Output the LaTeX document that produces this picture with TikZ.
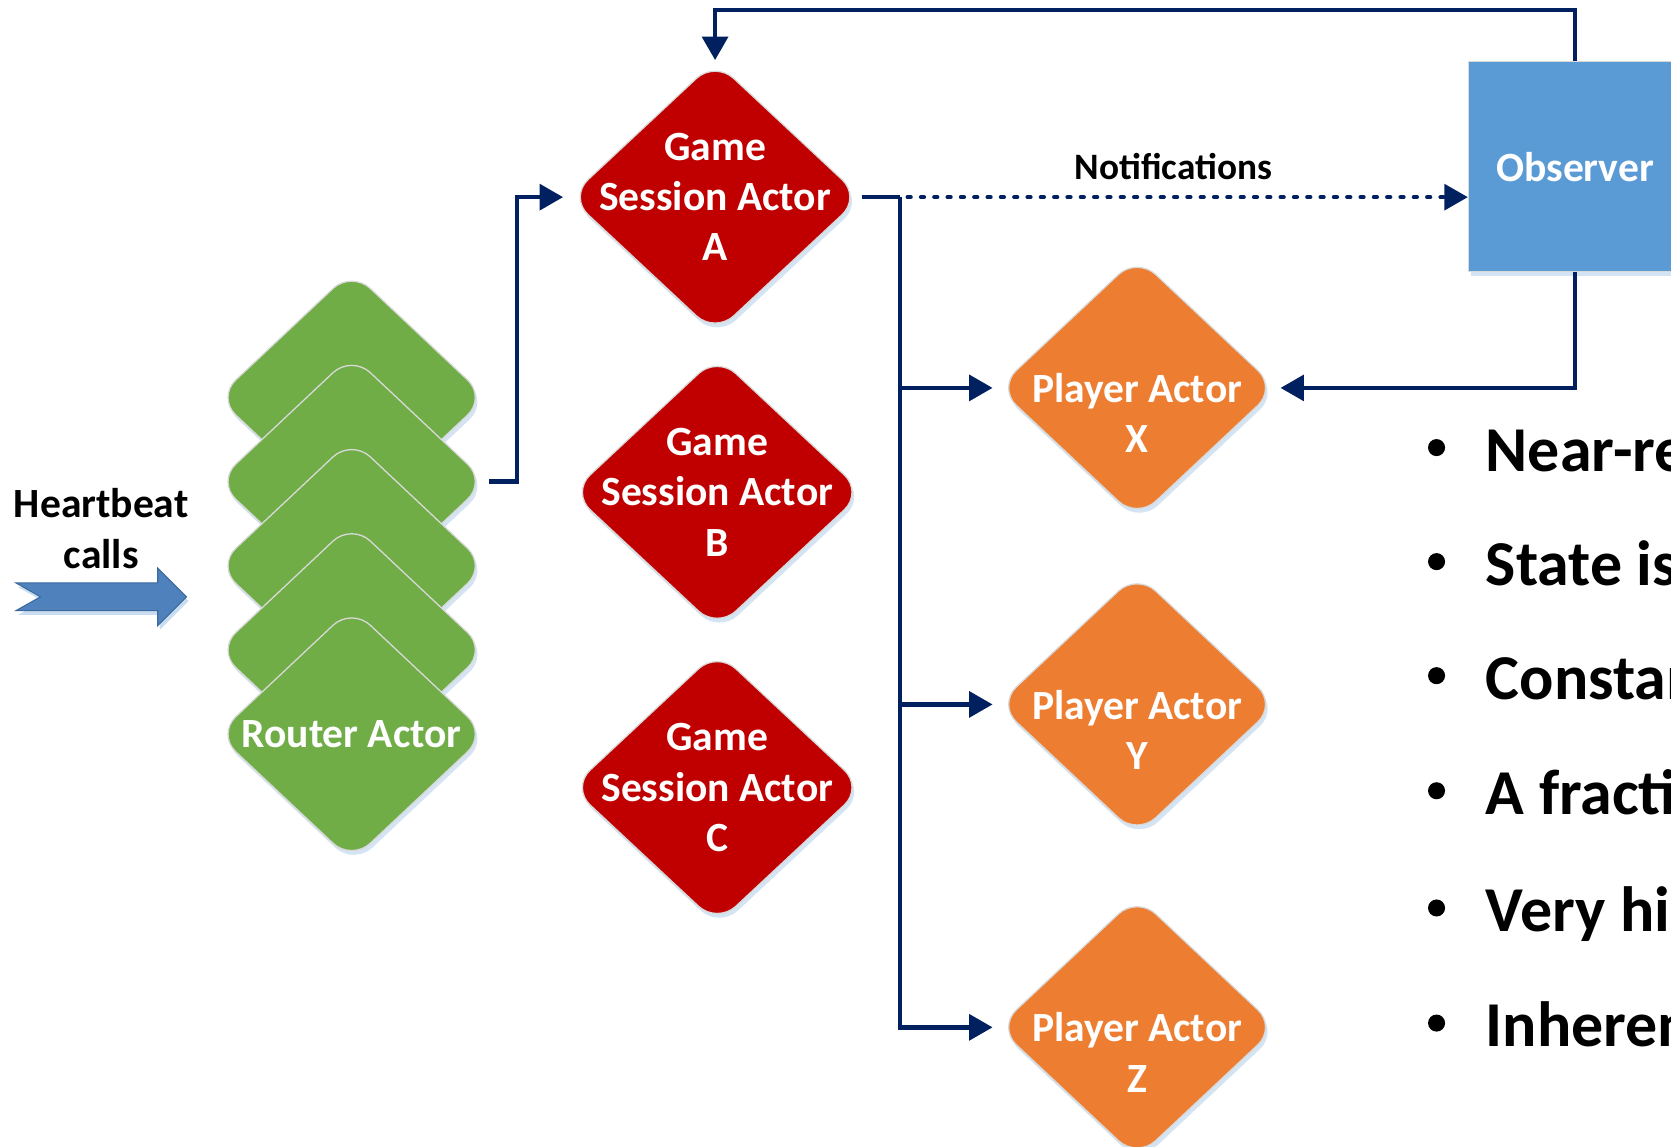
\documentclass[tikz,border=0pt]{standalone}
\usepackage{fontspec}
\setmainfont{Carlito}
\usetikzlibrary{shapes.geometric,arrows.meta,shadows}
\definecolor{navy}{HTML}{002060}
\definecolor{gsred}{HTML}{C00000}
\definecolor{plorange}{HTML}{ED7D31}
\definecolor{rtgreen}{HTML}{70AD47}
\definecolor{obsblue}{HTML}{5B9BD5}
\definecolor{hbblue}{HTML}{4F81BD}
\definecolor{hbdark}{HTML}{3C6A9E}
\definecolor{shadowc}{HTML}{C9DDF0}
\definecolor{rimc}{HTML}{D9D9D9}
\begin{document}
\begin{tikzpicture}[x=1pt,y=-1pt,
  softshadow/.style={drop shadow={shadow xshift=2pt,shadow yshift=-4pt,fill=shadowc,opacity=0.8}},
  dia/.style={shape=diamond,rounded corners=24pt,draw=rimc,line width=1.2pt,inner sep=0pt,softshadow},
  gsa/.style={dia,fill=gsred,minimum width=274pt,minimum height=256pt},
  pla/.style={dia,fill=plorange,minimum width=262pt,minimum height=246pt},
  rta/.style={dia,fill=rtgreen,minimum width=253pt,minimum height=238pt},
  lbl/.style={text=white,font=\bfseries\fontsize{39}{47}\selectfont,align=center,inner sep=0pt},
  blk/.style={text=black,font=\bfseries\fontsize{39}{47}\selectfont,align=center,inner sep=0pt},
  conn/.style={draw=navy,line width=4.2pt,-{Triangle[length=22pt,width=24pt]}},
  wire/.style={draw=navy,line width=4.2pt},
  dotline/.style={draw=navy,line width=3.8pt,line cap=round,dash pattern=on 3pt off 9.5pt,-{Triangle[length=22pt,width=24pt]}},
  bul/.style={text=black,font=\bfseries\fontsize{60}{72}\selectfont,inner sep=0pt,anchor=base west}
]
\useasboundingbox (0,0) rectangle (1568,1076);
\clip (0,0) rectangle (1568,1076);

% heartbeat arrow
\begin{scope}[shift={(2,4)}]
\fill[shadowc] (15,547) -- (148,547) -- (148,533) -- (175,560) -- (148,587) -- (148,573) -- (15,573) -- (38,560) -- cycle;
\end{scope}
\filldraw[fill=hbblue,draw=hbdark,line width=1pt] (15,547) -- (148,547) -- (148,533) -- (175,560) -- (148,587) -- (148,573) -- (15,573) -- (38,560) -- cycle;
\node[blk] (H) at (95,496) {Heartbeat\\calls};

% router stack
\node[rta] (R1) at (330,373) {};
\node[rta] (R2) at (330,452) {};
\node[rta] (R3) at (330,531) {};
\node[rta] (R4) at (330,610) {};
\node[rta] (R5) at (330,689) {};
\node[lbl] (R5t) at (R5) {Router Actor};

% game session actors
\node[gsa] (A) at (671,185) {};
\node[gsa] (B) at (673,462) {};
\node[gsa] (C) at (673,739) {};
\node[lbl] (At) at (A) {Game\\Session Actor\\A};
\node[lbl] (Bt) at (B) {Game\\Session Actor\\B};
\node[lbl] (Ct) at (C) {Game\\Session Actor\\C};

% player actors
\node[pla] (X) at (1067,364) {};
\node[pla] (Y) at (1067,661) {};
\node[pla] (Z) at (1067,964) {};
\node[lbl] (Xt) at ([yshift=-23.5pt]X.center) {Player Actor\\X};
\node[lbl] (Yt) at ([yshift=-23.5pt]Y.center) {Player Actor\\Y};
\node[lbl] (Zt) at ([yshift=-23.5pt]Z.center) {Player Actor\\Z};

% observer
\node[draw=rimc,line width=1.2pt,fill=obsblue,minimum width=200pt,minimum height=197pt,softshadow,lbl] (Obs) at (1478,156.5) {Observer};

\node[blk,font=\bfseries\fontsize{35}{42}\selectfont] (N) at (1101,156) {Notifications};

% connectors
\draw[conn] ([xshift=2pt]R2.east) -- ++(26,0) |- ([xshift=-5pt]A.west);
\coordinate (j) at ([xshift=36pt]A.east);
\draw[wire] (A.east) -- (j);
\draw[conn] (j) |- ([xshift=-4pt]X.west);
\draw[conn] (j) |- ([xshift=-4pt]Y.west);
\draw[conn] (j) |- ([xshift=-4pt]Z.west);
\draw[dotline] ([xshift=7pt]j) -- (Obs.west |- j);
\draw[conn] (Obs.north) -- ++(0,-48) -| (A.north);
\draw[conn] (Obs.south) |- ([xshift=3pt]X.east);

% bullets
\foreach \y/\t [count=\i] in {423/Near-real,530/State is,637/Constant,745/A fraction,855/Very high,963/Inherent}{
  \fill (1348,\y-3) circle (8pt);
  \node[bul] (b\i) at (1394,\y+19) {\t};
}
\end{tikzpicture}
\end{document}
